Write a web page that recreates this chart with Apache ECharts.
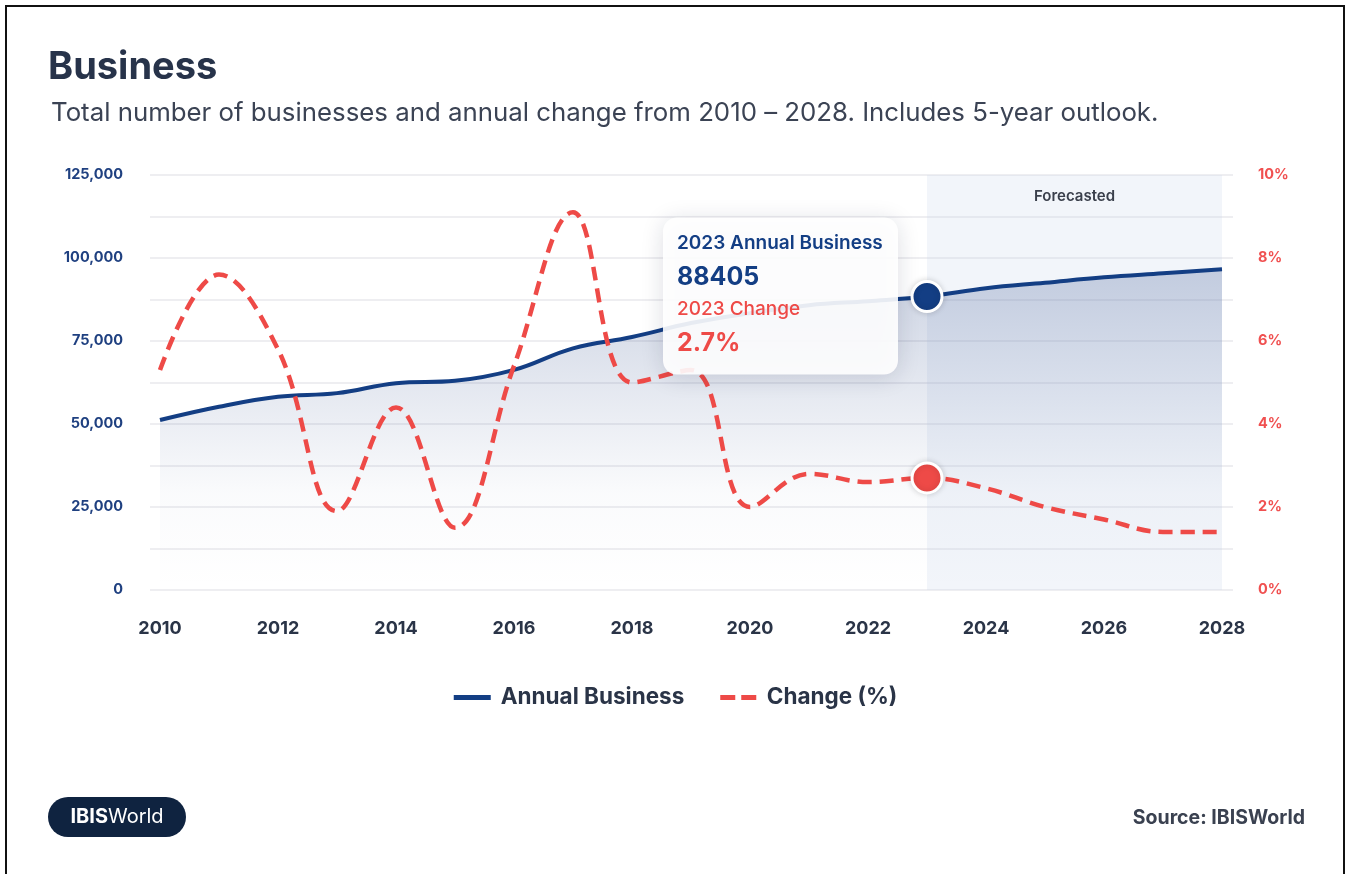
<!DOCTYPE html>
<html>
<head>
<meta charset="utf-8">
<script src="https://cdn.jsdelivr.net/npm/echarts@6/dist/echarts.min.js"></script>
<style>
  html, body { margin: 0; padding: 0; background: #ffffff; }
  #chart { width: 1351px; height: 874px; }
</style>
</head>
<body>
<div id="chart"></div>
<script>
// Business counts and annual % change, 2010-2028 (2024+ forecast)
const years = ['2010','2011','2012','2013','2014','2015','2016','2017','2018','2019',
               '2020','2021','2022','2023','2024','2025','2026','2027','2028'];
const annualBusiness = [51200, 55200, 58200, 59300, 62300, 63000, 66300, 72800, 76200, 80400,
                        83400, 85800, 87000, 88405, 90900, 92550, 94200, 95400, 96600];
const changePct = [5.3, 7.6, 5.8, 1.9, 4.4, 1.5, 5.4, 9.1, 5.0, 5.3,
                   2.0, 2.8, 2.6, 2.7, 2.45, 2.0, 1.7, 1.4, 1.4];
const highlightYear = '2023';
const forecastStart = '2023';
const forecastEnd = '2028';

const BLUE = '#133e84';
const RED = '#ee4a47';
const INK = '#2a3447';
const FONT = 'Inter, "Open Sans", sans-serif';

const hi = years.indexOf(highlightYear);

const dot = (color) => ({
  symbol: 'circle', symbolSize: 30,
  itemStyle: { color: color, borderColor: '#ffffff', borderWidth: 3,
               shadowBlur: 6, shadowColor: 'rgba(0,0,0,0.15)' }
});

const businessData = annualBusiness.map((v, i) => i === hi ? Object.assign({ value: v }, dot(BLUE)) : v);
const changeData = changePct.map((v, i) => i === hi ? Object.assign({ value: v }, dot(RED)) : v);

const chart = echarts.init(document.getElementById('chart'), null, { renderer: 'canvas' });

const option = {
  backgroundColor: '#ffffff',
  animation: false,
  textStyle: { fontFamily: FONT },
  title: [
    { text: 'Business', left: 43, top: 44,
      textStyle: { fontFamily: FONT, fontSize: 38, fontWeight: 700, color: '#27334a' } },
    { text: 'Total number of businesses and annual change from 2010 \u2013 2028. Includes 5-year outlook.',
      left: 46, top: 95,
      textStyle: { fontFamily: FONT, fontSize: 25.8, fontWeight: 400, color: '#3b4354' } }
  ],
  legend: {
    bottom: 160, left: 'center',
    itemWidth: 37, itemHeight: 5, itemGap: 36,
    textStyle: { fontFamily: FONT, fontSize: 22.5, fontWeight: 700, color: INK, padding: [0, 0, 0, 5] },
    data: [
      { name: 'Annual Business', icon: 'rect', itemStyle: { color: BLUE } },
      { name: 'Change (%)', icon: 'path://M0,0h15v5h-15z M21,0h15v5h-15z', itemStyle: { color: RED } }
    ]
  },
  grid: [
    { left: 160, right: 129, top: 175, bottom: 284, outerBoundsMode: 'none' },
    { left: 150, right: 118, top: 175, bottom: 284, outerBoundsMode: 'none' }
  ],
  xAxis: [
    { type: 'category', gridIndex: 0, data: years, boundaryGap: false,
      axisLine: { show: false }, axisTick: { show: false },
      axisLabel: { interval: 1, margin: 30, fontFamily: FONT, fontSize: 18, fontWeight: 700, color: INK },
      splitLine: { show: false } },
    { type: 'value', gridIndex: 1, min: 0, max: 1, show: false }
  ],
  yAxis: [
    { type: 'value', gridIndex: 0, min: 0, max: 125000, interval: 25000,
      axisLine: { show: false }, axisTick: { show: false }, splitLine: { show: false },
      axisLabel: { margin: 37, fontFamily: FONT, fontSize: 14.5, fontWeight: 700, color: '#1f4080',
                   formatter: (v) => v.toLocaleString('en-US') } },
    { type: 'value', gridIndex: 0, min: 0, max: 10, interval: 2, position: 'right',
      axisLine: { show: false }, axisTick: { show: false }, splitLine: { show: false },
      axisLabel: { margin: 36, fontFamily: FONT, fontSize: 14.5, fontWeight: 700, color: '#f05050',
                   formatter: '{value}%' } },
    // horizontal guide lines, slightly wider than the plotted range
    { type: 'value', gridIndex: 1, min: 0, max: 125000, interval: 12500,
      axisLine: { show: false }, axisTick: { show: false }, axisLabel: { show: false },
      splitLine: { show: true, lineStyle: { color: '#e8e9ed', width: 1.5 } } }
  ],
  series: [
    {
      name: 'Annual Business', type: 'line', xAxisIndex: 0, yAxisIndex: 0,
      data: businessData, smooth: 0.4, symbol: 'none', z: 3,
      lineStyle: { color: BLUE, width: 4 },
      itemStyle: { color: BLUE },
      areaStyle: {
        color: new echarts.graphic.LinearGradient(0, 0, 0, 1, [
          { offset: 0, color: 'rgba(30,62,130,0.32)' },
          { offset: 0.7, color: 'rgba(30,62,130,0.03)' },
          { offset: 1, color: 'rgba(30,62,130,0)' }
        ])
      },
      markArea: {
        silent: true,
        itemStyle: { color: 'rgba(200,212,234,0.24)' },
        label: { show: true, position: 'insideTop', distance: 14,
                 fontFamily: FONT, fontSize: 15, fontWeight: 600, color: '#3a3f4b' },
        data: [[{ name: 'Forecasted', xAxis: forecastStart, yAxis: 125000 },
                { xAxis: forecastEnd, yAxis: 0 }]]
      }
    },
    {
      name: 'Change (%)', type: 'line', xAxisIndex: 0, yAxisIndex: 1,
      data: changeData, smooth: 0.4, symbol: 'none', z: 4,
      lineStyle: { color: RED, width: 4.5, type: [14, 8] },
      itemStyle: { color: RED }
    }
  ]
};

chart.setOption(option);

// Callout card beside the highlighted year
const p = chart.convertToPixel({ xAxisIndex: 0, yAxisIndex: 0 }, [highlightYear, annualBusiness[hi]]);
const boxW = 235, boxH = 157;
const bx = p[0] - 264, by = p[1] - 79;
chart.setOption({
  graphic: [
    { type: 'rect', z: 100, shape: { x: bx, y: by, width: boxW, height: boxH, r: 14 },
      style: { fill: 'rgba(255,255,255,0.9)', shadowBlur: 22, shadowColor: 'rgba(20,30,60,0.16)', shadowOffsetY: 3 } },
    { type: 'text', z: 101, x: bx + 14, y: by + 26,
      style: { text: highlightYear + ' Annual Business', font: '600 19px ' + FONT, fill: BLUE, verticalAlign: 'middle' } },
    { type: 'text', z: 101, x: bx + 14, y: by + 60,
      style: { text: String(annualBusiness[hi]), font: '700 25px ' + FONT, fill: BLUE, verticalAlign: 'middle' } },
    { type: 'text', z: 101, x: bx + 14, y: by + 92,
      style: { text: highlightYear + ' Change', font: '500 19px ' + FONT, fill: RED, verticalAlign: 'middle' } },
    { type: 'text', z: 101, x: bx + 14, y: by + 126,
      style: { text: changePct[hi] + '%', font: '700 25px ' + FONT, fill: RED, verticalAlign: 'middle' } },
    // brand pill
    { type: 'rect', z: 100, shape: { x: 48, y: 797, width: 138, height: 40, r: 20 },
      style: { fill: '#0f2340' } },
    { type: 'text', z: 101, x: 117, y: 817,
      style: { text: '{b|IBIS}{r|World}', align: 'center', verticalAlign: 'middle',
               rich: { b: { font: '700 20px ' + FONT, fill: '#ffffff' },
                       r: { font: '400 20px ' + FONT, fill: '#ffffff' } } } },
    { type: 'text', z: 101, x: 1305, y: 818,
      style: { text: 'Source: IBISWorld', align: 'right', verticalAlign: 'middle',
               font: '700 19.5px ' + FONT, fill: '#3a4150' } },
    // frame
    { type: 'rect', z: 100, shape: { x: 6, y: 6, width: 1338, height: 880 },
      style: { fill: 'none', stroke: '#111111', lineWidth: 2 } }
  ]
});
</script>
</body>
</html>
